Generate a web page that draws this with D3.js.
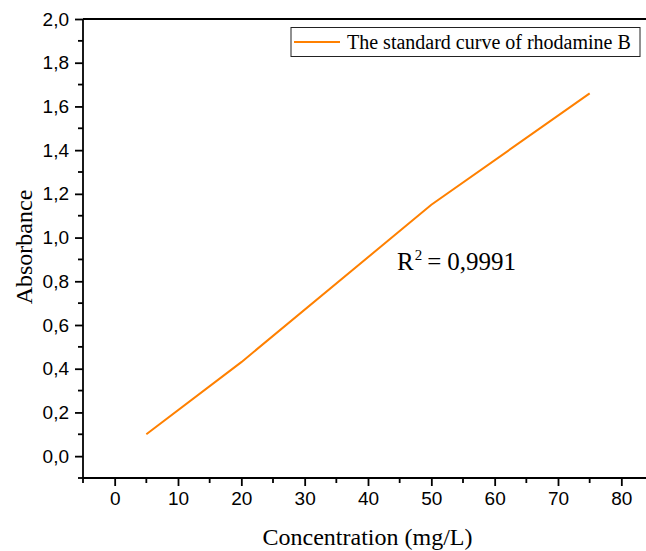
<!DOCTYPE html>
<html>
<head>
<meta charset="utf-8">
<script src="https://cdn.jsdelivr.net/npm/d3@7"></script>
<style>
  body { margin: 0; background: #fff; }
  svg { display: block; }
</style>
</head>
<body>
<div id="chart"></div>
<script>
// data
var concentration = [5, 20, 50, 75];
var absorbance = [0.10, 0.43, 1.15, 1.66];
var seriesName = "The standard curve of rhodamine B";
var xTicks = [0, 10, 20, 30, 40, 50, 60, 70, 80];
var yTicks = [0, 0.2, 0.4, 0.6, 0.8, 1.0, 1.2, 1.4, 1.6, 1.8, 2.0];
var r2Label = "0,9991";

var width = 646, height = 551;
var margin = { left: 83, right: -7, top: 19, bottom: 73 };

function translate(dx, dy) { return "translate(" + dx + "," + dy + ")"; }

var ww = width - margin.left - margin.right,
    hh = height - margin.top - margin.bottom;

var xScale = d3.scaleLinear().domain([-5, 85]).range([0, ww]);
var yScale = d3.scaleLinear().domain([-0.1, 2.0]).range([hh, 0]);

var svg = d3.select("#chart").append("svg")
    .attr("width", width).attr("height", height);
var g = svg.append("g").attr("transform", translate(margin.left, margin.top));

var fmt = function(d) { return d3.format(".1f")(d).replace(".", ","); };

// minor ticks
var xMinor = d3.range(-5, 86, 10);
var yMinor = d3.range(-0.1, 2.0, 0.2);

var xAxis = d3.axisBottom(xScale).tickValues(xTicks).tickSize(8).tickPadding(6)
    .tickFormat(d3.format("d"));
var gx = g.append("g").attr("class", "x-axis")
    .attr("transform", translate(0, hh)).call(xAxis);
gx.selectAll(".minor").data(xMinor).enter().append("line")
    .attr("x1", function(d) { return xScale(d); })
    .attr("x2", function(d) { return xScale(d); })
    .attr("y1", 0).attr("y2", 5);

var yAxis = d3.axisLeft(yScale).tickValues(yTicks).tickSize(8).tickPadding(6)
    .tickFormat(fmt);
var gy = g.append("g").attr("class", "y-axis").call(yAxis);
gy.selectAll(".minor").data(yMinor).enter().append("line")
    .attr("y1", function(d) { return yScale(d); })
    .attr("y2", function(d) { return yScale(d); })
    .attr("x1", 0).attr("x2", -5);

[gx, gy].forEach(function(a) {
    a.select(".domain").attr("stroke", "#000").attr("stroke-width", 1.8);
    a.selectAll("line").attr("stroke", "#000").attr("stroke-width", 1.8);
    a.selectAll("text").attr("font-family", "Liberation Sans, Arial, sans-serif")
        .attr("font-size", 19).attr("fill", "#000");
});
gx.select(".domain").attr("d", "M0,0H" + ww);
gy.select(".domain").attr("d", "M0," + hh + "V0");

// top frame
g.append("line")
    .attr("x1", 0).attr("x2", ww)
    .attr("y1", yScale(2.0)).attr("y2", yScale(2.0))
    .attr("stroke", "#000").attr("stroke-width", 1.8);

// the curve
var data = concentration.map(function(c, i) { return [c, absorbance[i]]; });
var line = d3.line()
    .x(function(d) { return xScale(d[0]); })
    .y(function(d) { return yScale(d[1]); });
g.append("path").datum(data)
    .attr("d", line)
    .attr("fill", "none")
    .attr("stroke", "#ff8000")
    .attr("stroke-width", 2);

// legend
var legend = svg.append("g").attr("transform", translate(291, 27.5));
legend.append("rect")
    .attr("width", 349).attr("height", 29)
    .attr("fill", "#fff").attr("stroke", "#222").attr("stroke-width", 1);
legend.append("line")
    .attr("x1", 3).attr("x2", 49).attr("y1", 14.5).attr("y2", 14.5)
    .attr("stroke", "#ff8000").attr("stroke-width", 2);
legend.append("text")
    .attr("x", 56).attr("y", 21.5)
    .attr("font-family", "Liberation Serif, Times New Roman, serif")
    .attr("font-size", 20)
    .text(seriesName);

// R^2 annotation
var r2 = svg.append("text")
    .attr("x", 397).attr("y", 270)
    .attr("font-family", "Liberation Serif, Times New Roman, serif")
    .attr("font-size", 25);
r2.append("tspan").text("R");
r2.append("tspan").attr("font-size", 15).attr("dy", -10).attr("dx", 1).text("2");
r2.append("tspan").attr("dy", 10).attr("dx", 5).text("=");
r2.append("tspan").attr("dx", 6).text(r2Label);

// axis titles
svg.append("text")
    .attr("x", 367.5).attr("y", 545)
    .attr("text-anchor", "middle")
    .attr("font-family", "Liberation Serif, Times New Roman, serif")
    .attr("font-size", 24)
    .text("Concentration (mg/L)");

svg.append("text")
    .attr("transform", translate(32, 247) + " rotate(-90)")
    .attr("text-anchor", "middle")
    .attr("font-family", "Liberation Serif, Times New Roman, serif")
    .attr("font-size", 24)
    .text("Absorbance");
</script>
</body>
</html>
